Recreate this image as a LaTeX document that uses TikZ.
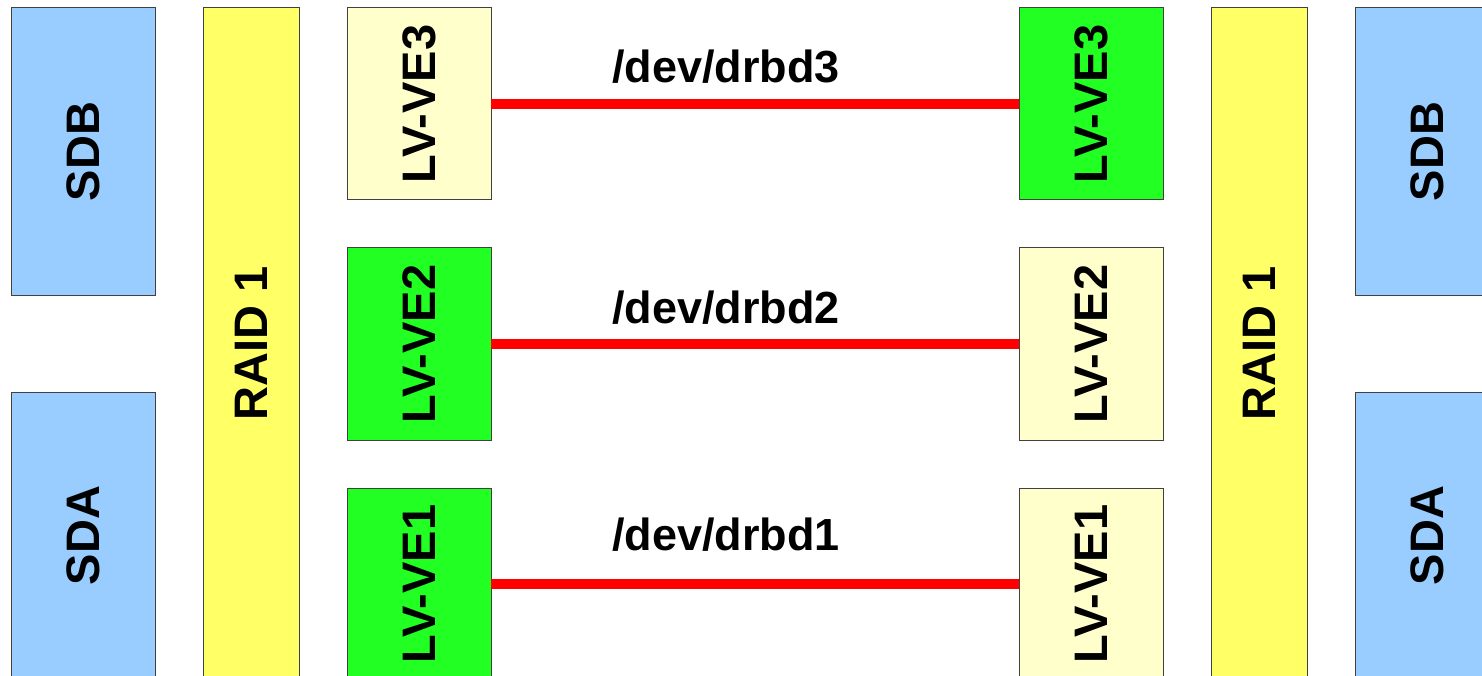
\documentclass[tikz,border=0pt]{standalone}
\usepackage{fontspec}
\setmainfont{Liberation Sans}
\definecolor{diskblue}{HTML}{99CCFF}
\definecolor{raidyellow}{HTML}{FFFF66}
\definecolor{lvpale}{HTML}{FFFFCC}
\definecolor{lvgreen}{HTML}{22FF22}
\definecolor{linkred}{HTML}{FF0000}
\tikzset{
  box/.style={draw=black!75, line width=1pt, rectangle, inner sep=0pt, outer sep=0pt,
    font=\fontsize{47}{56}\selectfont\bfseries, rotate=90, text=black},
  disk/.style={box, fill=diskblue, minimum width=287pt, minimum height=144pt},
  raid/.style={box, fill=raidyellow, minimum width=671pt, minimum height=96pt},
  lvp/.style={box, fill=lvpale, minimum width=192pt, minimum height=144pt},
  lvg/.style={box, fill=lvgreen, minimum width=192pt, minimum height=144pt},
  link/.style={draw=linkred, line width=10.5pt},
  lbl/.style={font=\fontsize{45}{54}\selectfont\bfseries, inner sep=0pt, anchor=base west}
}
\begin{document}
\begin{tikzpicture}[x=1pt,y=-1pt]
\useasboundingbox (0,0) rectangle (1482,676);
\clip (0,0) rectangle (1482,676);
% left side
\node[disk] (sdbl) at (83,151.5) {SDB};
\node[disk] (sdal) at (83,535.5) {SDA};
\node[raid] (raidl) at (251,343.5) {RAID 1};
\node[lvp] (lv3l) at (419,104) {LV-VE3};
\node[lvg] (lv2l) at (419,344) {LV-VE2};
\node[lvg] (lv1l) at (419,584) {LV-VE1};
% right side
\node[lvg] (lv3r) at (1091,104) {LV-VE3};
\node[lvp] (lv2r) at (1091,344) {LV-VE2};
\node[lvp] (lv1r) at (1091,584) {LV-VE1};
\node[raid] (raidr) at (1259,343.5) {RAID 1};
\node[disk] (sdbr) at (1427,151.5) {SDB};
\node[disk] (sdar) at (1427,535.5) {SDA};
% links
\draw[link] (lv3l.south) -- (lv3r.north);
\draw[link] (lv2l.south) -- (lv2r.north);
\draw[link] (lv1l.south) -- (lv1r.north);
% labels
\node[lbl] (d3) at (612,83) {/dev/drbd3};
\node[lbl] (d2) at (612,323) {/dev/drbd2};
\node[lbl] (d1) at (612,550) {/dev/drbd1};
\end{tikzpicture}
\end{document}
